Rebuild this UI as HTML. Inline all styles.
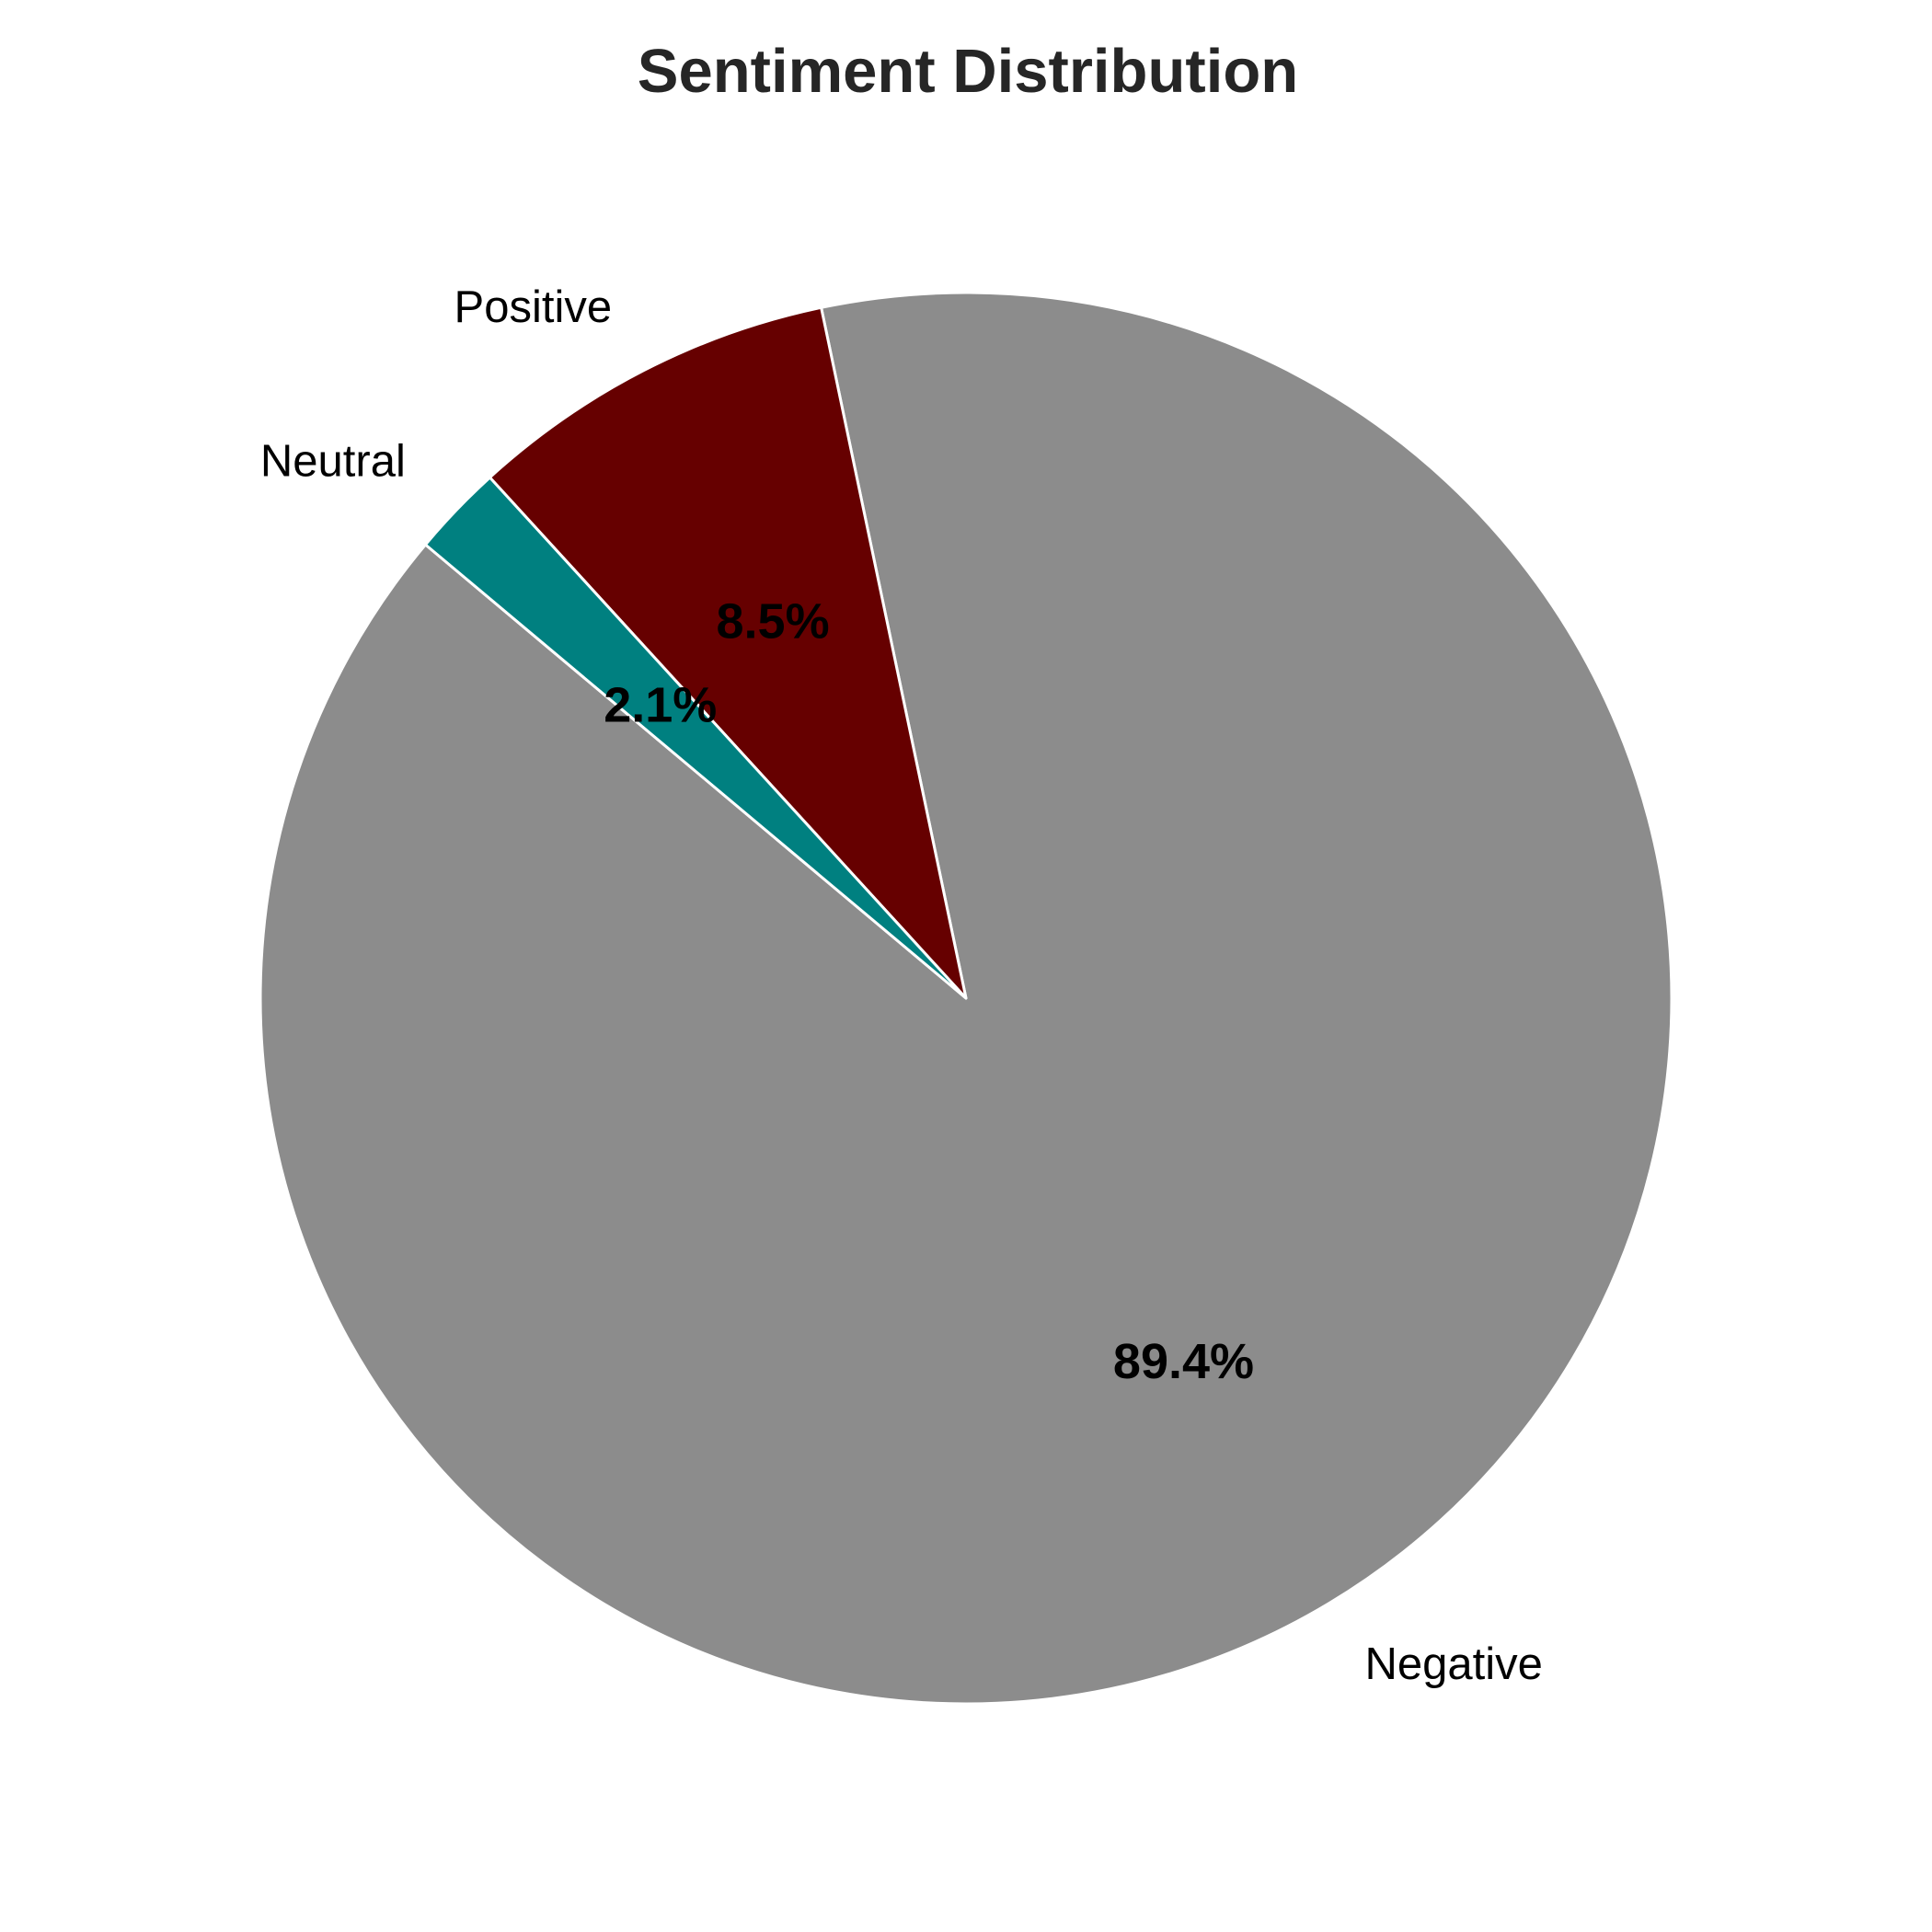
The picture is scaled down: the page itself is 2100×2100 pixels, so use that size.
<!DOCTYPE html>
<html><head><meta charset="utf-8">
<style>
html,body{margin:0;padding:0;background:#fff;}
svg{display:block;}
text{font-family:"Liberation Sans",Arial,sans-serif;}
</style></head>
<body>
<svg id="chart" width="2100" height="2100" viewBox="0 0 2100 2100" xmlns="http://www.w3.org/2000/svg">
<text x="1052" y="100" text-anchor="middle" font-size="67" font-weight="bold" fill="#262626">Sentiment Distribution</text>
<g id="slices"></g>
<g id="labels"></g>
</svg>
<script>
const categories = ["Negative", "Positive", "Neutral"];
const values = [89.4, 8.5, 2.1];
const pctLabels = ["89.4%", "8.5%", "2.1%"];
const colors = ["#8c8c8c", "#660000", "#008080"];

const cx = 1050, cy = 1085, R = 767, startAngle = 140;
const NS = "http://www.w3.org/2000/svg";
const total = values.reduce((a, b) => a + b, 0);
const sg = document.getElementById("slices");
const lg = document.getElementById("labels");
function pt(angDeg, r) {
  const a = angDeg * Math.PI / 180;
  return [cx + r * Math.cos(a), cy - r * Math.sin(a)];
}
let a0 = startAngle;
values.forEach((v, i) => {
  const sweep = v / total * 360;
  const a1 = a0 + sweep;
  const p0 = pt(a0, R), p1 = pt(a1, R);
  const large = sweep > 180 ? 1 : 0;
  const path = document.createElementNS(NS, "path");
  path.setAttribute("d", `M${cx},${cy} L${p0[0]},${p0[1]} A${R},${R} 0 ${large} 0 ${p1[0]},${p1[1]} Z`);
  path.setAttribute("fill", colors[i]);
  path.setAttribute("stroke", "#ffffff");
  path.setAttribute("stroke-width", "3");
  path.setAttribute("stroke-linejoin", "round");
  
  
  sg.appendChild(path);

  const mid = (a0 + a1) / 2;
  const lp = pt(mid, R * 1.1);
  const t = document.createElementNS(NS, "text");
  t.setAttribute("x", lp[0]);
  t.setAttribute("y", lp[1]);
  t.setAttribute("font-size", "49");
  t.setAttribute("fill", "#000");
  t.setAttribute("dominant-baseline", "central");
  t.setAttribute("text-anchor", Math.cos(mid * Math.PI / 180) >= 0 ? "start" : "end");
  t.textContent = categories[i];
  
  
  lg.appendChild(t);

  const pp = pt(mid, R * 0.6);
  const p = document.createElementNS(NS, "text");
  p.setAttribute("x", pp[0]);
  p.setAttribute("y", pp[1]);
  p.setAttribute("font-size", "54");
  p.setAttribute("font-weight", "bold");
  p.setAttribute("fill", "#000");
  p.setAttribute("dominant-baseline", "central");
  p.setAttribute("text-anchor", "middle");
  p.textContent = pctLabels[i];
  
  
  lg.appendChild(p);
  a0 = a1;
});
</script>
</body></html>
